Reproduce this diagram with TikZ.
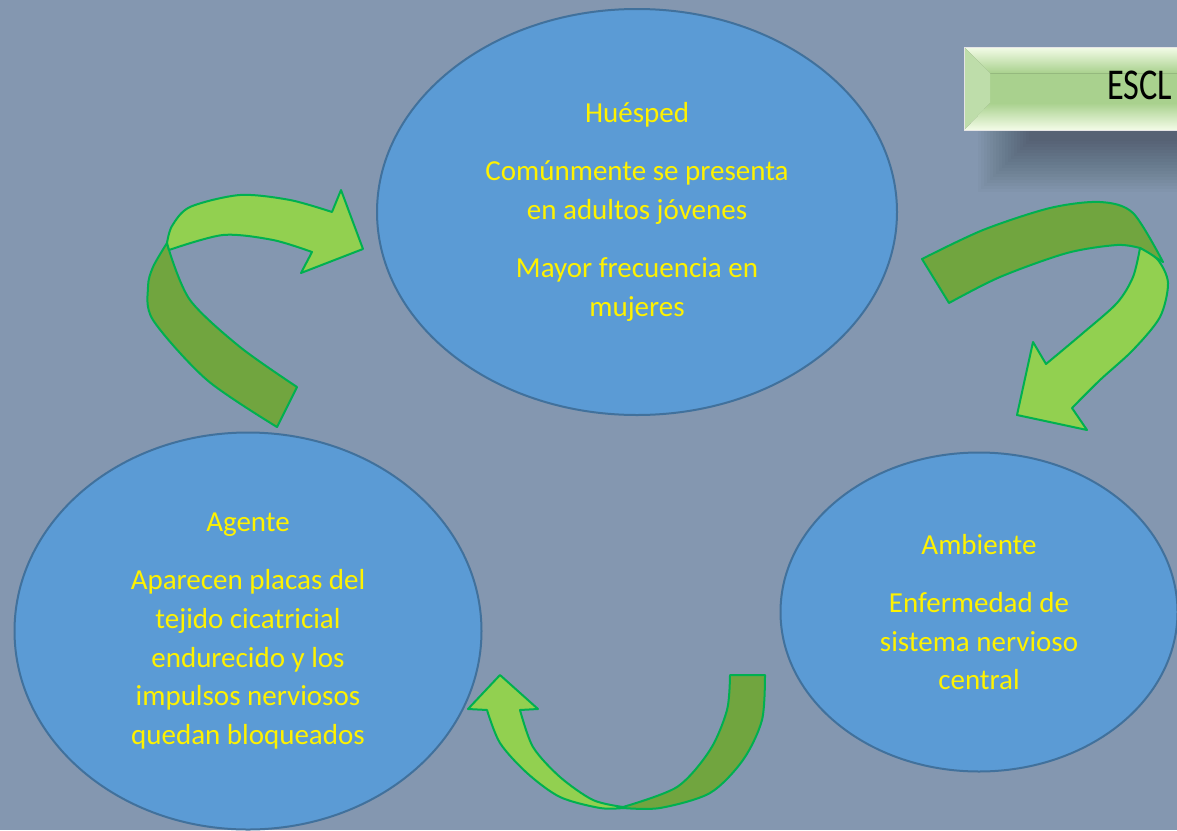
\documentclass[tikz,border=0pt]{standalone}
\usepackage{fontspec}
\setmainfont{Carlito}
\newfontfamily\titlefont{Carlito}[FakeStretch=0.78]
\usetikzlibrary{shapes.geometric}
\definecolor{bgblue}{HTML}{8497B0}
\definecolor{cellblue}{HTML}{5B9BD5}
\definecolor{rimblue}{HTML}{41719C}
\definecolor{lightgreen}{HTML}{92D050}
\definecolor{darkgreen}{HTML}{71A53F}
\definecolor{rimgreen}{HTML}{00B050}
\definecolor{boxgreen}{HTML}{A9D18E}
\definecolor{boxpale}{HTML}{F4FCE8}
\begin{document}
\begin{tikzpicture}[x=0.5pt,y=-0.5pt,
  factor/.style={ellipse, draw=rimblue, line width=1pt, fill=cellblue, inner sep=0pt,
    text=yellow, align=center, font=\fontsize{14.5}{19.4}\selectfont},
  ribbonlight/.style={fill=lightgreen, draw=rimgreen, line width=1pt, line join=round},
  ribbondark/.style={fill=darkgreen, draw=rimgreen, line width=1pt, line join=round}]

  \fill[bgblue] (0,0) rectangle (1177,830);
  \useasboundingbox (0,0) rectangle (1177,830);

  % draw curved arrows
  \draw[ribbondark] plot[smooth] coordinates {(277,427) (207,380) (153,320) (148,287) (153,267) (167,243)}
    -- plot[smooth] coordinates {(169,250) (190,300) (240,347) (297,387)} -- cycle;
  \draw[ribbonlight] plot[smooth] coordinates {(167,243) (172,226) (190,207) (240,195) (290,200) (332,212)}
    -- (341,190) -- (363,249) -- (301,273) -- (312,252)
    -- plot[smooth] coordinates {(312,252) (273,240) (223,235) (169,250)} -- cycle;

  \draw[ribbondark] plot[smooth] coordinates {(922,259) (983,230) (1050,208) (1100,202) (1133,213) (1163,262)}
    -- plot[smooth] coordinates {(1140,248) (1117,245) (1067,253) (1000,277) (949,303)} -- cycle;
  \draw[ribbonlight] plot[smooth] coordinates {(1140,248) (1158,260) (1168,283) (1160,317) (1133,350) (1100,380) (1072,408)}
    -- (1087,430) -- (1017,415) -- (1033,342) -- (1046,364)
    -- plot[smooth] coordinates {(1046,364) (1083,333) (1117,303) (1133,277) (1140,248)} -- cycle;

  \draw[ribbondark] plot[smooth] coordinates {(765,675) (762,720) (743,760) (710,793) (660,808) (623,808)}
    -- plot[smooth] coordinates {(623,807) (677,787) (710,750) (727,710) (730,675)} -- cycle;
  \draw[ribbonlight] plot[smooth] coordinates {(623,808) (600,808) (560,797) (527,773) (500,743) (487,710)}
    -- (468,709) -- (500,675) -- (538,709) -- (520,710)
    -- plot[smooth] coordinates {(520,710) (533,747) (560,777) (593,800) (623,807)} -- cycle;

  % draw factors
  \node[factor, minimum width=260pt, minimum height=203pt] (huesped) at (637,212)
    {Huésped\\[9.7pt]Comúnmente se presenta\\en adultos jóvenes\\[9.7pt]Mayor frecuencia en\\mujeres};
  \node[factor, minimum width=233.5pt, minimum height=198.5pt] (agente) at (248,631)
    {Agente\\[9.7pt]Aparecen placas del\\tejido cicatricial\\endurecido y los\\impulsos nerviosos\\quedan bloqueados};
  \node[factor, minimum width=198.5pt, minimum height=159.5pt] (ambiente) at (979,612)
    {Ambiente\\[9.7pt]Enfermedad de\\sistema nervioso\\central};

  % title box
  \begin{scope}
    \clip (0,0) rectangle (1177,830);
    \foreach \i in {0,...,17}
      \fill[black, opacity=0.02] (978+3*\i,80+\i) rectangle (1200,192-3*\i);
    \fill[boxgreen] (964,47) rectangle (1200,130);
    \fill[top color=boxpale, bottom color=boxgreen] (964,47) -- (1200,47) -- (1200,73) -- (990,73) -- cycle;
    \fill[top color=boxgreen, bottom color=boxpale] (990,103) -- (1200,103) -- (1200,130) -- (964,130) -- cycle;
    \fill[boxgreen!75!white] (964,47) -- (990,73) -- (990,103) -- (964,130) -- cycle;
    \draw[white!80!gray, line width=0.5pt] (964,47) rectangle (1200,130);
    \node[anchor=base west, inner sep=0pt, font=\titlefont\fontsize{22}{26}\selectfont] (titulo) at (1107,99)
      {ESCL};
  \end{scope}
\end{tikzpicture}
\end{document}
